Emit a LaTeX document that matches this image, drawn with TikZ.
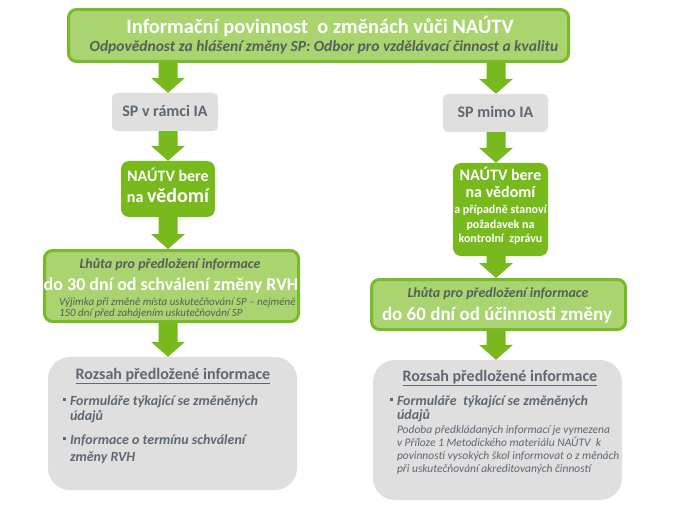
\documentclass[tikz,border=0pt]{standalone}
\usepackage{fontspec}
\setmainfont{Carlito}
\usetikzlibrary{calc,backgrounds}
\definecolor{gDark}{HTML}{78B91E}
\definecolor{gLight}{HTML}{A9D46F}
\definecolor{gBorder}{HTML}{7AB929}
\definecolor{boxGray}{HTML}{DFDFDF}
\definecolor{txtGray}{HTML}{5E6873}
\definecolor{subGray}{HTML}{56605A}
\newcommand\fsz[1]{\fontsize{#1}{#1}\selectfont}
\begin{document}
\begin{tikzpicture}[x=1pt,y=-1pt,
 lightbox/.style={draw=gBorder,line width=3pt,fill=gLight,rounded corners=8pt,inner sep=0pt},
 greenbox/.style={fill=gDark,rounded corners=8pt,inner sep=0pt},
 graybox/.style={fill=boxGray,rounded corners=5pt,inner sep=0pt},
 scopebox/.style={fill=boxGray,rounded corners=22pt,inner sep=0pt},
 txt/.style={anchor=base,inner sep=0pt,outer sep=0pt},
 ltxt/.style={anchor=base west,inner sep=0pt,outer sep=0pt},
 bulletsq/.style={fill=txtGray,minimum size=3.5pt,inner sep=0pt,outer sep=0pt},
 arrowfill/.style={fill=gDark},
 blockarr/.style={to path={let \p1=(\tikztostart),\p2=(\tikztotarget) in
   (\x2-9.5pt,\y1) -- (\x2-9.5pt,\y2+15pt) -- (\x2-17pt,\y2+15pt) -- (\x2,\y2)
   -- (\x2+17pt,\y2+15pt) -- (\x2+9.5pt,\y2+15pt) -- (\x2+9.5pt,\y1) -- cycle}},
]
\useasboundingbox (0,0) rectangle (675,516);

\coordinate (axL) at (168,0);
\coordinate (axR) at (496,0);

% boxes
\node[lightbox,minimum width=500pt,minimum height=52pt] (top) at (318.5,35.5) {};
\node[graybox,minimum width=106pt,minimum height=38pt] (sp1) at (165,112) {};
\node[greenbox,minimum width=94pt,minimum height=56pt] (nl) at (168,189) {};
\node[lightbox,minimum width=254pt,minimum height=71pt] (lhL) at (171.5,286) {};
\node[scopebox,minimum width=249pt,minimum height=133pt] (rzL) at (172.5,423.5) {};
\node[graybox,minimum width=105pt,minimum height=38pt] (sp2) at (495.5,113) {};
\node[greenbox,minimum width=95pt,minimum height=93pt] (nr) at (500.5,209.5) {};
\node[lightbox,minimum width=254pt,minimum height=50pt] (lhR) at (498.5,304.5) {};
\node[scopebox,minimum width=249pt,minimum height=140pt] (rzR) at (497.5,430) {};

% arrows
\begin{scope}[on background layer]
\fill[white] (0,0) rectangle (675,516);
\fill[arrowfill] (top.south -| axL) to[blockarr] (sp1.north -| axL);
\fill[arrowfill] (sp1.south -| axL) to[blockarr] (nl.north -| axL);
\fill[arrowfill] (nl.south -| axL) to[blockarr] (lhL.north -| axL);
\fill[arrowfill] (lhL.south -| axL) to[blockarr] (rzL.north -| axL);
\fill[arrowfill] (top.south -| axR) to[blockarr] (sp2.north -| axR);
\fill[arrowfill] (sp2.south -| axR) to[blockarr] (nr.north -| axR);
\fill[arrowfill] (nr.south -| axR) to[blockarr] (lhR.north -| axR);
\fill[arrowfill] (lhR.south -| axR) to[blockarr] (rzR.north -| axR);
\end{scope}

% top texts
\node[txt,text=white] (t1) at (320,34) {\fsz{20.5}\bfseries Informační povinnost\ \ o změnách vůči NAÚTV};
\node[txt,text=subGray] (t2) at (324,52) {\fsz{15.5}\bfseries\itshape Odpovědnost za hlášení změny SP: Odbor pro vzdělávací činnost a kvalitu};

% left column
\node[txt,text=txtGray] (sp1t) at (165,117) {\fsz{16}\bfseries SP v rámci IA};
\node[txt,text=white] (nl1) at (168,182) {\fsz{16}\bfseries NAÚTV bere};
\node[txt,text=white] (nl2) at (168,202) {\fsz{16}\bfseries na {\fsz{20}vědomí}};
\node[txt,text=subGray] (lhL1) at (170,268) {\fsz{14}\bfseries\itshape Lhůta pro předložení informace};
\node[txt,text=white] (lhL2) at (171,290) {\fsz{18}\bfseries do 30 dní od schválení změny RVH};
\node[ltxt,text=subGray] (lhL3) at (59,305) {\fsz{11}\itshape Výjimka při změně místa uskutečňování SP – nejméně};
\node[ltxt,text=subGray] (lhL4) at (59,316) {\fsz{11}\itshape 150 dní před zahájením uskutečňování SP};
\node[txt,text=txtGray] (rzL1) at (173,379) {\fsz{16}\bfseries\underline{Rozsah předložené informace}};
\node[bulletsq] (bL1) at (64.5,399.5) {};
\node[ltxt,text=txtGray] (rzL2) at (70,405) {\fsz{14}\bfseries\itshape Formuláře týkající se změněných};
\node[ltxt,text=txtGray] (rzL3) at (70,420) {\fsz{14}\bfseries\itshape údajů};
\node[bulletsq] (bL2) at (64.5,438.5) {};
\node[ltxt,text=txtGray] (rzL4) at (70,444) {\fsz{14}\bfseries\itshape Informace o termínu schválení};
\node[ltxt,text=txtGray] (rzL5) at (70,461) {\fsz{14}\bfseries\itshape změny RVH};

% right column
\node[txt,text=txtGray] (sp2t) at (495.5,118) {\fsz{16}\bfseries SP mimo IA};
\node[txt,text=white] (nr1) at (500.5,180) {\fsz{16}\bfseries NAÚTV bere};
\node[txt,text=white] (nr2) at (500.5,197) {\fsz{16}\bfseries na vědomí};
\node[txt,text=white] (nr3) at (500.5,214) {\fsz{12}\bfseries a případně stanoví};
\node[txt,text=white] (nr4) at (500.5,228) {\fsz{12}\bfseries požadavek na};
\node[txt,text=white] (nr5) at (500.5,242) {\fsz{12}\bfseries kontrolní\ \ zprávu};
\node[txt,text=subGray] (lhR1) at (498,297) {\fsz{14}\bfseries\itshape Lhůta pro předložení informace};
\node[txt,text=white] (lhR2) at (497,320) {\fsz{19}\bfseries do 60 dní od účinnosti změny};
\node[txt,text=txtGray] (rzR1) at (500,381) {\fsz{16}\bfseries\underline{Rozsah předložené informace}};
\node[bulletsq] (bR1) at (391.5,399.5) {};
\node[ltxt,text=txtGray] (rzR2) at (397,405) {\fsz{14}\bfseries\itshape Formuláře\ \ týkající se změněných};
\node[ltxt,text=txtGray] (rzR3) at (397,419) {\fsz{14}\bfseries\itshape údajů};
\node[ltxt,text=txtGray] (rzR4) at (397,433) {\fsz{11.5}\itshape Podoba předkládaných informací je vymezena};
\node[ltxt,text=txtGray] (rzR5) at (397,446) {\fsz{11.5}\itshape v Příloze 1 Metodického materiálu NAÚTV\ \ k};
\node[ltxt,text=txtGray] (rzR6) at (397,459) {\fsz{11.5}\itshape povinnosti vysokých škol informovat o z měnách};
\node[ltxt,text=txtGray] (rzR7) at (397,472) {\fsz{11.5}\itshape při uskutečňování akreditovaných činností};
\end{tikzpicture}
\end{document}
